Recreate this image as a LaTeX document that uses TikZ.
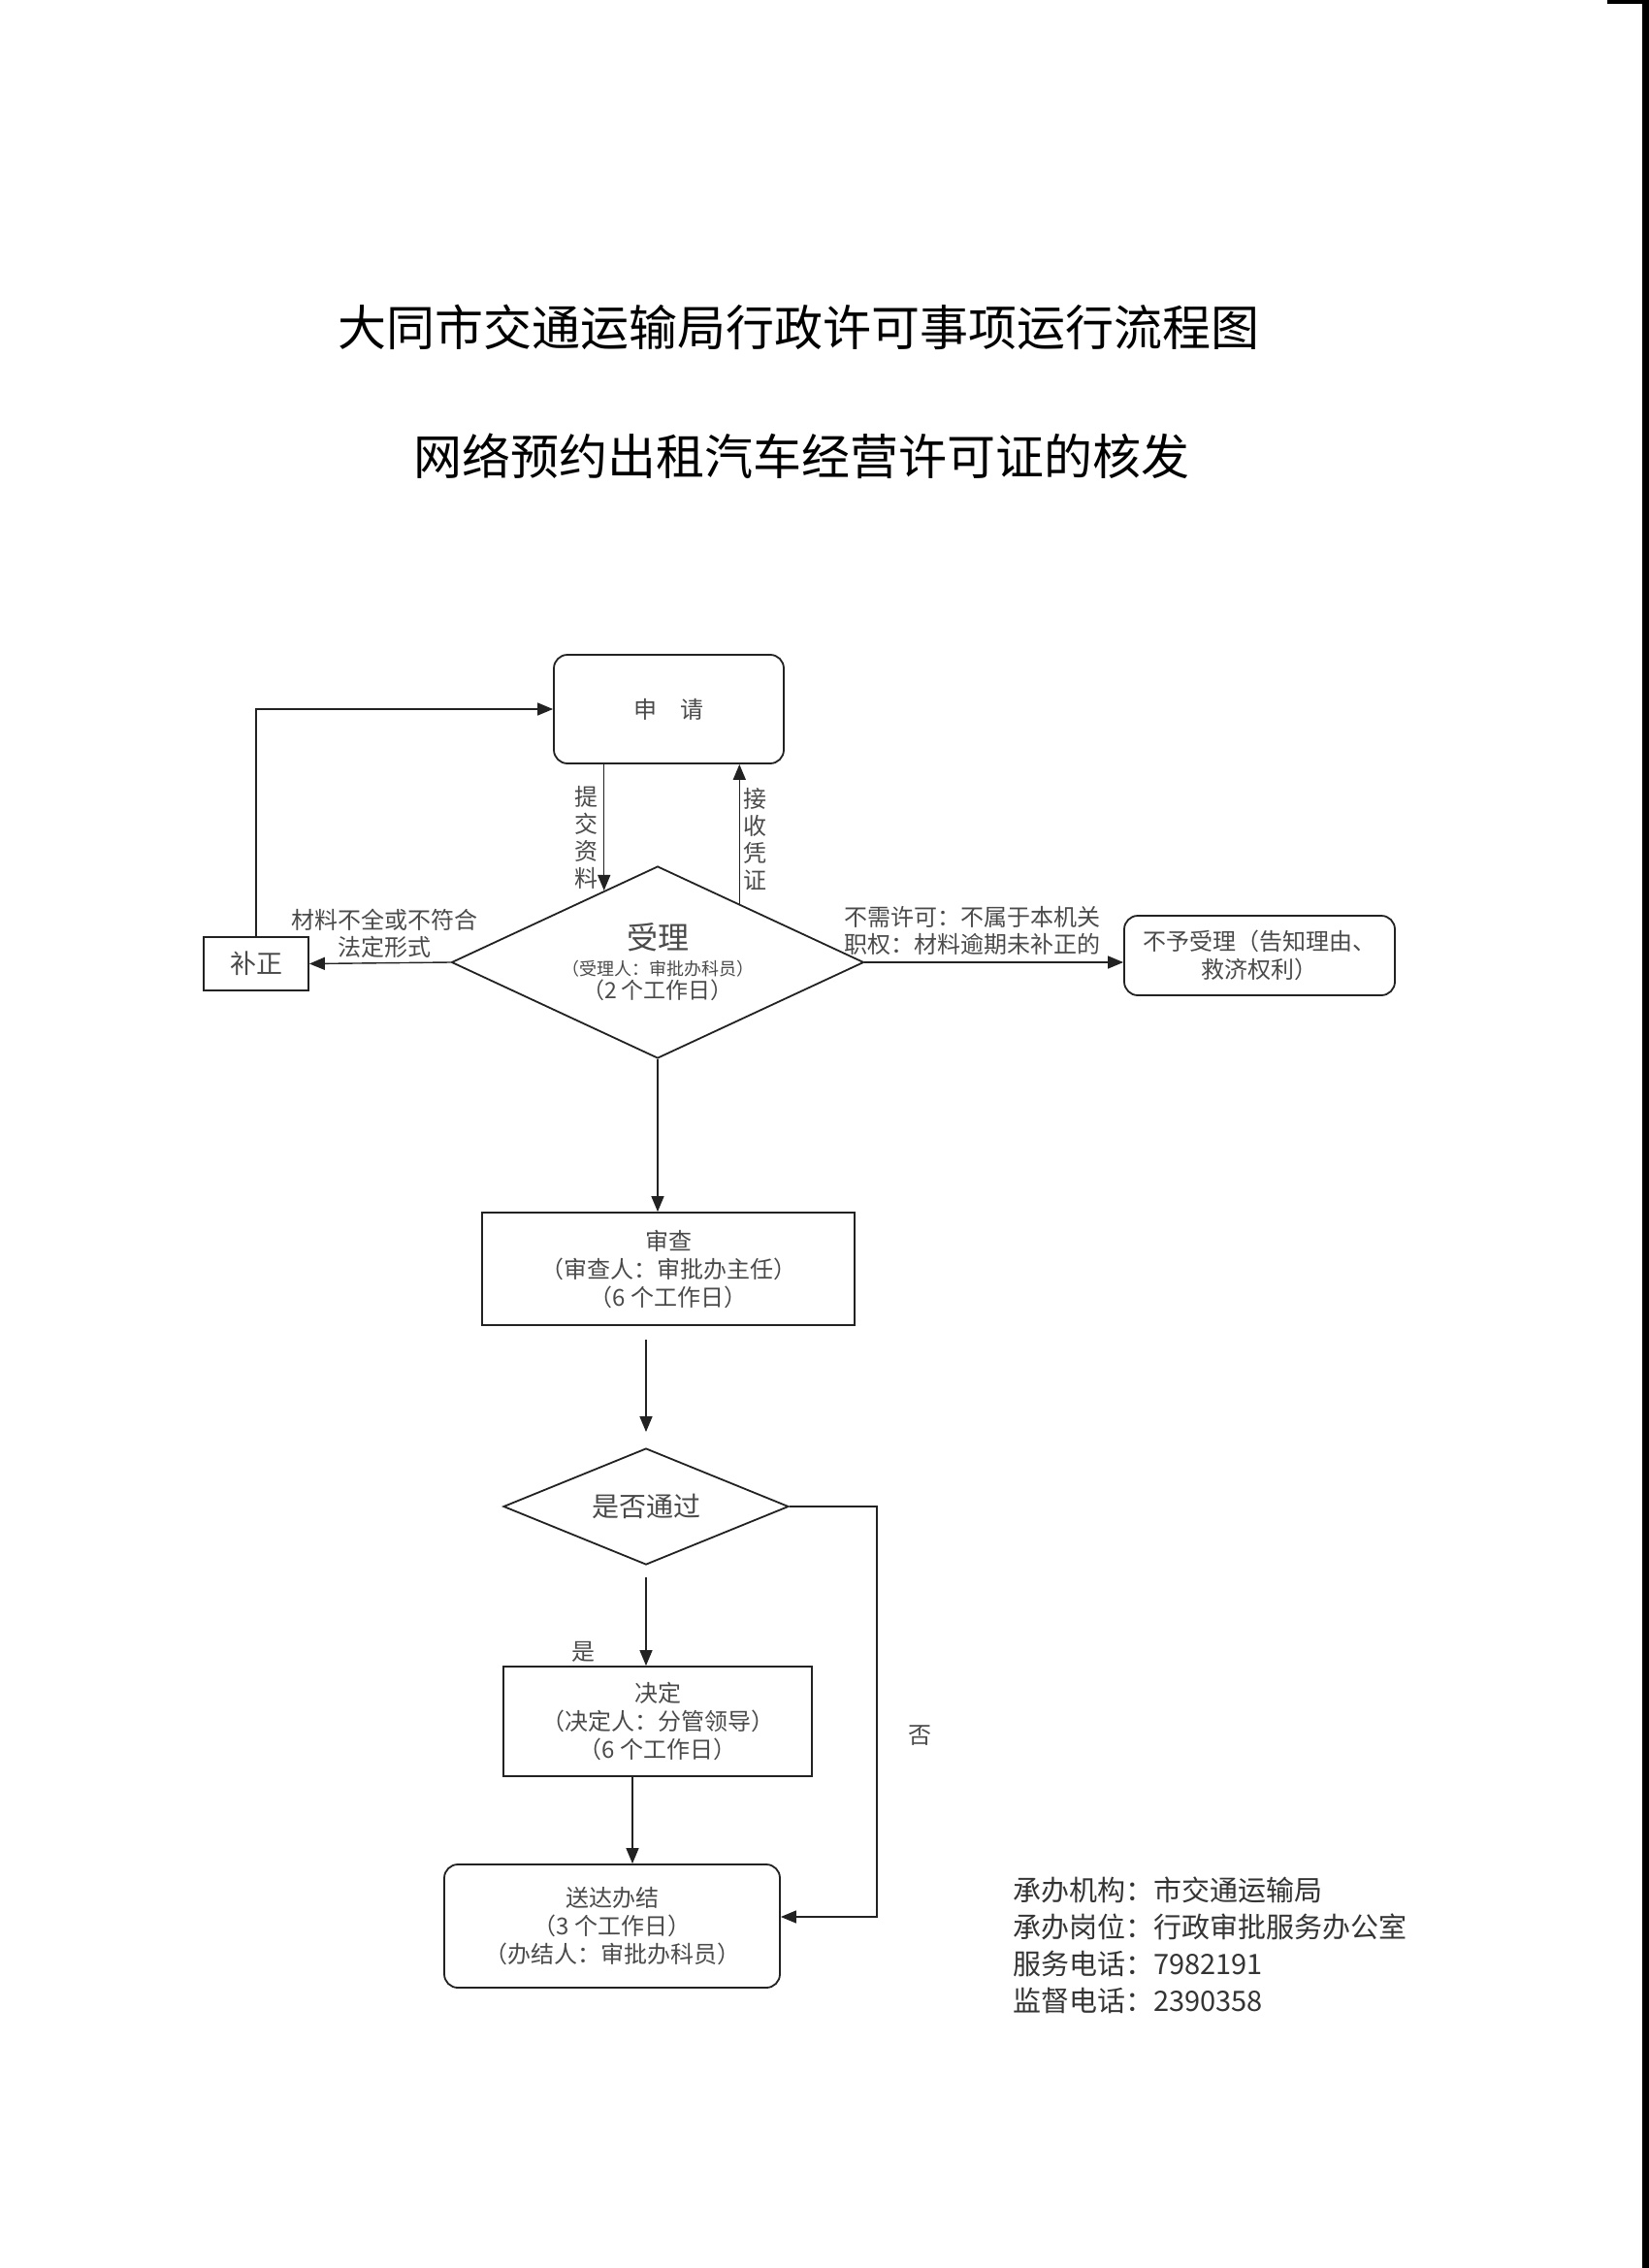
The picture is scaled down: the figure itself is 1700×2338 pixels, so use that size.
\documentclass[tikz,border=0pt]{standalone}
\usepackage{fontspec}
\setmainfont{Noto Sans CJK SC}
\usetikzlibrary{shapes.geometric,arrows.meta,calc}
\definecolor{ink}{HTML}{222222}
\definecolor{txt}{HTML}{4A4A4A}
\begin{document}
\begin{tikzpicture}[x=0.5pt,y=-0.5pt,
  box/.style={draw=ink,line width=0.9pt,rectangle,inner sep=0pt,text=txt,align=center,font=\fontsize{12}{14.5}\selectfont},
  rbox/.style={box,rounded corners=7pt},
  dia/.style={draw=ink,line width=0.9pt,diamond,inner sep=0pt,text=txt,align=center},
  conn/.style={draw=ink,line width=0.7pt},
  arr/.style={conn,-{Triangle[length=8pt,width=6.5pt]}},
  lbl/.style={text=txt,align=center,font=\fontsize{12}{14}\selectfont,inner sep=0pt},
  ttl/.style={font=\fontsize{25}{30}\selectfont,text=black,inner sep=0pt}
]
\useasboundingbox[fill=white] (0,0) rectangle (1700,2338);
\fill[black] (1693,0) rectangle (1700,2338);
\fill[black] (1657,0) rectangle (1700,4);

\node[ttl] (t1) at (823,337) {大同市交通运输局行政许可事项运行流程图};
\node[ttl] (t2) at (826,470) {网络预约出租汽车经营许可证的核发};

\node[rbox,minimum width=118.5pt,minimum height=56pt] (apply) at (689.5,731) {申\hspace{1em}请};
\node[box,minimum width=54pt,minimum height=27.5pt,font=\fontsize{13.5}{15}\selectfont] (fix) at (264,993.5) {补正};
\node[dia,minimum width=212.5pt,minimum height=99pt,shape aspect=2.15] (acc) at (678,992)
  {{\fontsize{16}{16}\selectfont 受理}\\[1.5pt]{\fontsize{9}{10}\selectfont （受理人：审批办科员）}\\[0pt]{\fontsize{11.5}{13}\selectfont （2 个工作日）}};
\node[rbox,minimum width=139.5pt,minimum height=41pt] (rej) at (1298.5,985) {不予受理（告知理由、\\救济权利）};
\node[box,minimum width=192pt,minimum height=58pt] (rev) at (689,1308) {审查\\（审查人：审批办主任）\\（6 个工作日）};
\node[dia,minimum width=147pt,minimum height=60pt,shape aspect=2.45,font=\fontsize{14}{15}\selectfont] (pass) at (666,1553) {是否通过};
\node[box,minimum width=159pt,minimum height=56.5pt] (dec) at (678,1774.5) {决定\\（决定人：分管领导）\\（6 个工作日）};
\node[rbox,minimum width=173pt,minimum height=63.5pt] (done) at (631,1985.5) {送达办结\\（3 个工作日）\\（办结人：审批办科员）};

\node[lbl] (l1) at (604,863) {提\\交\\资\\料};
\node[lbl] (l2) at (778,865) {接\\收\\凭\\证};
\node[lbl] (l3) at (396,962) {材料不全或不符合\\法定形式};
\node[lbl] (l4) at (1002,959) {不需许可：不属于本机关\\职权：材料逾期未补正的};
\node[lbl] (l5) at (601,1703) {是};
\node[lbl] (l6) at (948,1789) {否};

\node[anchor=west,font=\fontsize{14.5}{19}\selectfont,align=left,text=txt!70!black,inner sep=0pt] (info) at (1044,2005)
  {承办机构：市交通运输局\\承办岗位：行政审批服务办公室\\服务电话：7982191\\监督电话：2390358};

\coordinate (p1) at ($(acc.north)!0.259!(acc.west)$);
\coordinate (p2) at ($(acc.north)!0.395!(acc.east)$);
\draw[arr] (apply.south -| p1) -- (p1);
\draw[arr] (p2) -- (apply.south -| p2);
\draw[arr] (acc.west) -- (fix.east);
\draw[arr] (fix.north) |- (apply.west);
\draw[arr] (acc.east) -- (acc.east -| rej.west);
\draw[arr] (acc.south) -- (acc.south |- rev.north);
\draw[arr,shorten <=7pt,shorten >=8pt] (rev.south -| pass.north) -- (pass.north);
\draw[arr,shorten <=6pt] (pass.south) -- (pass.south |- dec.north);
\coordinate (cx) at (652,1880);
\draw[arr] (dec.south -| cx) -- (done.north -| cx);
\coordinate (rr) at (904,1976);
\draw[arr] (pass.east) -| (rr) -- (done.east |- rr);
\end{tikzpicture}
\end{document}
